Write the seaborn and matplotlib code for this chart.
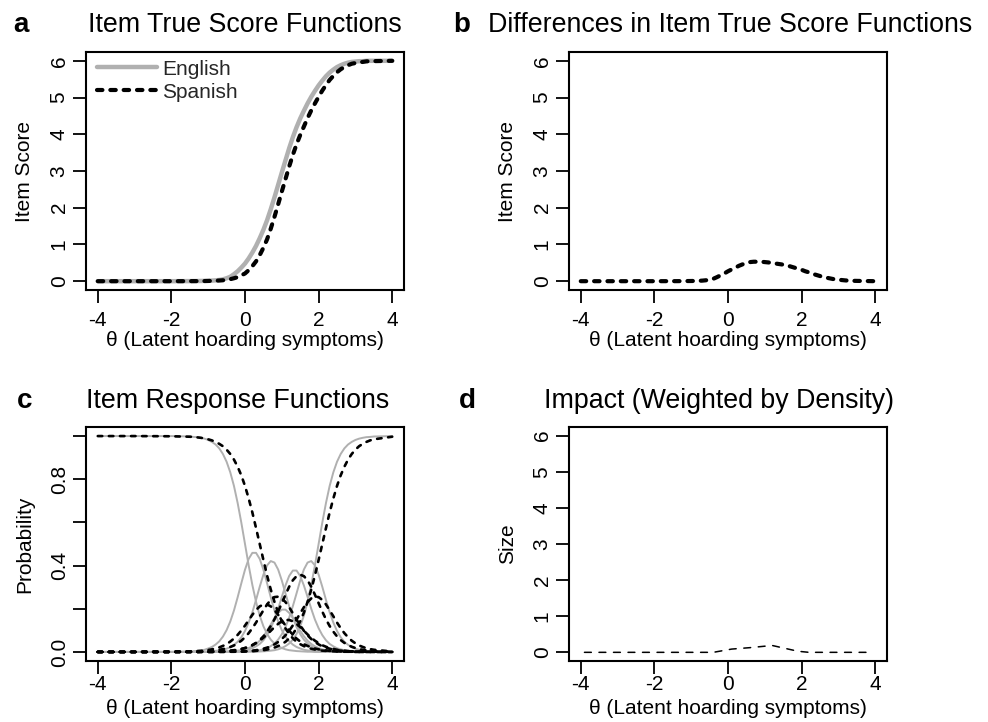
import matplotlib
matplotlib.use("Agg")
import matplotlib.pyplot as plt
import seaborn as sns

# ---------------- data ----------------
theta = [-4.0, -3.0, -2.0,
         -1.5, -1.4, -1.3, -1.2, -1.1, -1.0, -0.9, -0.8, -0.7, -0.6,
         -0.5, -0.4, -0.3, -0.2, -0.1, 0.0, 0.1, 0.2, 0.3, 0.4,
         0.5, 0.6, 0.7, 0.8, 0.9, 1.0, 1.1, 1.2, 1.3, 1.4,
         1.5, 1.6, 1.7, 1.8, 1.9, 2.0, 2.1, 2.2, 2.3, 2.4,
         2.5, 2.6, 2.7, 2.8, 2.9, 3.0, 3.1, 3.2, 3.3, 3.4, 3.5,
         4.0]

# Panel a: item true scores
en_score = [0.0, 0.0, 0.0,
            .002, .003, .004, .006, .008, .011, .016, .023, .033, .050,
            .080, .120, .190, .270, .370, .480, .620, .780, .960, 1.170,
            1.400, 1.660, 1.960, 2.280, 2.620, 2.960, 3.290, 3.620, 3.920, 4.190,
            4.430, 4.640, 4.840, 5.020, 5.180, 5.330, 5.460, 5.580, 5.680, 5.760,
            5.830, 5.880, 5.920, 5.950, 5.970, 5.980, 5.990, 5.990, 6.0, 6.0, 6.0,
            6.0]
es_score = [0.0, 0.0, 0.0,
            .001, .002, .002, .003, .004, .006, .009, .013, .018, .025,
            .035, .055, .080, .110, .160, .210, .300, .410, .540, .710,
            .910, 1.140, 1.430, 1.750, 2.090, 2.440, 2.780, 3.120, 3.440, 3.725,
            3.980, 4.210, 4.440, 4.650, 4.840, 5.020, 5.190, 5.340, 5.480, 5.590,
            5.690, 5.770, 5.830, 5.880, 5.920, 5.940, 5.960, 5.970, 5.985, 5.990, 5.992,
            6.0]

# Panel b: difference in item true scores
diff_vals = [0.0, 0.0, 0.0,
             .001, .001, .002, .003, .004, .005, .007, .010, .015, .025,
             .045, .065, .110, .160, .210, .270, .320, .370, .420, .460,
             .490, .520, .530, .530, .530, .520, .510, .500, .480, .465,
             .450, .430, .400, .370, .340, .310, .270, .240, .200, .170,
             .140, .110, .090, .070, .050, .040, .030, .020, .015, .010, .008,
             0.0]

# Panel c: item response functions (categories 0..6)
en_p0 = [1.0, 1.0, 1.0,
         .998, .996, .995, .992, .988, .982, .973, .961, .943, .917,
         .881, .832, .769, .690, .599, .500, .401, .310, .232, .168,
         .119, .083, .057, .039, .027, .018, .012, .008, .006, .004,
         .003, .002, .001, .001, 0, 0, 0, 0, 0, 0,
         0, 0, 0, 0, 0, 0, 0, 0, 0, 0, 0,
         0.0]
en_p1 = [0, 0, 0,
         .002, .003, .005, .007, .010, .016, .023, .034, .049, .071,
         .101, .141, .192, .253, .318, .381, .431, .459, .459, .431,
         .381, .318, .253, .192, .141, .101, .071, .049, .034, .023,
         .016, .010, .007, .005, .003, .002, .002, .001, .001, .001,
         0, 0, 0, 0, 0, 0, 0, 0, 0, 0, 0,
         0]
en_p2 = [0, 0, 0,
         0, .001, .001, .001, .001, .002, .003, .005, .007, .010,
         .015, .022, .033, .047, .068, .097, .136, .184, .241, .302,
         .358, .401, .421, .414, .382, .331, .271, .212, .159, .115,
         .082, .057, .039, .027, .018, .012, .008, .006, .004, .003,
         .002, .001, .001, 0, 0, 0, 0, 0, 0, 0, 0,
         0]
en_p3 = [0, 0, 0,
         0, 0, 0, 0, 0, 0, 0, .001, .001, .001,
         .002, .003, .004, .006, .008, .012, .018, .026, .037, .052,
         .073, .098, .127, .157, .181, .196, .196, .181, .157, .127,
         .098, .073, .052, .037, .026, .018, .012, .008, .006, .004,
         .003, .002, .001, .001, 0, 0, 0, 0, 0, 0, 0,
         0]
en_p4 = [0, 0, 0,
         0, 0, 0, 0, 0, 0, 0, 0, 0, .001,
         .001, .002, .002, .004, .005, .008, .012, .017, .026, .037,
         .054, .078, .110, .150, .200, .255, .308, .352, .377, .377,
         .352, .308, .255, .200, .150, .110, .078, .054, .037, .026,
         .017, .012, .008, .005, .004, .002, .002, .001, .001, 0, 0,
         0]
en_p5 = [0, 0, 0,
         0, 0, 0, 0, 0, 0, 0, 0, 0, 0,
         0, 0, 0, .001, .001, .002, .003, .004, .006, .008,
         .012, .018, .027, .039, .057, .082, .115, .159, .212, .271,
         .331, .382, .414, .421, .401, .358, .302, .241, .184, .136,
         .097, .068, .047, .033, .022, .015, .010, .007, .005, .003, .003,
         0]
en_p6 = [0, 0, 0,
         0, 0, 0, 0, 0, 0, 0, 0, 0, 0,
         0, 0, 0, 0, 0, 0, .001, .001, .001, .002,
         .003, .004, .006, .008, .012, .018, .027, .039, .057, .083,
         .119, .168, .232, .310, .401, .500, .599, .690, .769, .832,
         .881, .917, .943, .961, .973, .982, .988, .992, .995, .996, .998,
         1.0]

es_p0 = [1.0, 1.0, .999,
         .997, .996, .994, .992, .989, .985, .980, .973, .964, .953,
         .937, .917, .891, .858, .818, .769, .711, .646, .574, .500,
         .426, .354, .289, .232, .182, .142, .109, .083, .063, .047,
         .036, .027, .020, .015, .011, .008, .006, .005, .003, .003,
         .002, .001, .001, .001, .001, 0, 0, 0, 0, 0, 0,
         0]
es_p1 = [0, 0, .001,
         .002, .003, .004, .005, .007, .009, .012, .016, .021, .028,
         .036, .048, .062, .079, .099, .122, .147, .172, .194, .211,
         .220, .220, .211, .194, .172, .147, .122, .099, .079, .062,
         .048, .036, .028, .021, .016, .012, .009, .007, .005, .004,
         .003, .002, .002, .001, .001, .001, 0, 0, 0, 0, 0,
         0]
es_p2 = [0, 0, 0,
         .001, .001, .002, .002, .003, .004, .005, .007, .010, .013,
         .017, .023, .030, .040, .052, .068, .087, .110, .136, .165,
         .193, .220, .241, .254, .256, .248, .231, .207, .179, .150,
         .123, .098, .077, .060, .046, .035, .026, .020, .015, .011,
         .008, .006, .005, .003, .003, .002, .001, .001, .001, .001, .001,
         0]
es_p3 = [0, 0, 0,
         0, 0, 0, .001, .001, .001, .001, .002, .002, .003,
         .004, .006, .008, .010, .014, .018, .024, .031, .041, .052,
         .066, .081, .098, .115, .130, .142, .148, .148, .142, .130,
         .115, .098, .081, .066, .052, .041, .031, .024, .018, .014,
         .010, .008, .006, .004, .003, .002, .002, .001, .001, .001, .001,
         0]
es_p4 = [0, 0, 0,
         0, 0, 0, .001, .001, .001, .001, .002, .002, .003,
         .004, .005, .007, .010, .013, .018, .024, .032, .042, .055,
         .072, .094, .120, .151, .187, .226, .265, .302, .332, .351,
         .358, .351, .332, .302, .265, .226, .187, .151, .120, .094,
         .072, .055, .042, .032, .024, .018, .013, .010, .007, .005, .004,
         .001]
es_p5 = [0, 0, 0,
         0, 0, 0, 0, 0, 0, 0, 0, .001, .001,
         .001, .001, .001, .002, .003, .003, .005, .006, .008, .011,
         .015, .020, .026, .035, .046, .060, .077, .098, .123, .150,
         .179, .207, .231, .248, .256, .254, .241, .220, .193, .165,
         .136, .110, .087, .068, .052, .040, .030, .023, .017, .013, .010,
         .002]
es_p6 = [0, 0, 0,
         0, 0, 0, 0, 0, 0, 0, 0, 0, 0,
         0, .001, .001, .001, .001, .002, .003, .003, .005, .006,
         .008, .011, .015, .020, .027, .036, .047, .063, .083, .109,
         .142, .182, .232, .289, .354, .426, .500, .574, .646, .711,
         .769, .818, .858, .891, .917, .937, .953, .964, .973, .980, .985,
         .997]

# Panel d: impact weighted by density
impact_theta = [-3.9, -0.4, 0.1, 0.6, 1.2, 1.9, 2.2, 3.8]
impact_vals = [0.0, 0.0, 0.09, 0.13, 0.19, 0.03, 0.0, 0.0]

x_ticks = [-4, -2, 0, 2, 4]
x_ticklabels = ["-4", "-2", "0", "2", "4"]
score_ticks = [0, 1, 2, 3, 4, 5, 6]
score_ticklabels = ["0", "1", "2", "3", "4", "5", "6"]
prob_ticks = [0.0, 0.2, 0.4, 0.6, 0.8, 1.0]
prob_ticklabels = ["0.0", "", "0.4", "", "0.8", ""]

titles = ["Item True Score Functions", "Differences in Item True Score Functions",
          "Item Response Functions", "Impact (Weighted by Density)"]
letters = ["a", "b", "c", "d"]
xlab = "\u03b8 (Latent hoarding symptoms)"

# ---------------- style ----------------
sns.set_theme(style="ticks")
plt.rcParams["font.family"] = ["Liberation Sans", "DejaVu Sans"]

GREY = "#B0B0B0"
W, H = 988, 722
FS = 15

fig = plt.figure(figsize=(W / 100, H / 100), dpi=100)
fig.patch.set_facecolor("white")


def box(x0, y0, x1, y1):
    return [x0 / W, 1 - y1 / H, (x1 - x0) / W, (y1 - y0) / H]


ax_a = fig.add_axes(box(86, 52, 404, 290))
ax_b = fig.add_axes(box(569, 52, 887, 290))
ax_c = fig.add_axes(box(86, 427, 404, 661))
ax_d = fig.add_axes(box(569, 427, 887, 661))


def style(ax, ylim, yticks, yticklabels, ylabel, xpad, xlab_y, xlab_va):
    ax.set_facecolor("white")
    ax.set_xlim(-4.32, 4.32)
    ax.set_ylim(*ylim)
    ax.set_xticks(x_ticks)
    ax.set_xticklabels(x_ticklabels)
    ax.set_yticks(yticks)
    ax.set_yticklabels(yticklabels, rotation=90, va="center")
    ax.tick_params(axis="both", direction="out", length=9.5, width=1.3,
                   labelsize=FS, colors="black")
    ax.tick_params(axis="x", pad=xpad)
    ax.tick_params(axis="y", pad=3)
    for s in ax.spines.values():
        s.set_visible(True)
        s.set_linewidth(1.5)
        s.set_color("black")
    ax.set_xlabel(xlab, fontsize=FS, color="black")
    ax.xaxis.label.set_va(xlab_va)
    ax.xaxis.set_label_coords(0.5, xlab_y)
    ax.set_ylabel(ylabel, fontsize=FS, color="black")
    ax.yaxis.label.set_va("center")
    ax.yaxis.set_label_coords(-0.192, 0.5)
    ax.grid(False)


# Panel a
sns.lineplot(x=theta, y=en_score, ax=ax_a, color=GREY, linewidth=3.2,
             estimator=None, sort=False, label="English",
             solid_capstyle="round")
sns.lineplot(x=theta, y=es_score, ax=ax_a, color="black", linewidth=3.0,
             estimator=None, sort=False, label="Spanish",
             linestyle=(0, (1.3, 1.9)), dash_capstyle="round")
style(ax_a, (-0.24, 6.24), score_ticks, score_ticklabels, "Item Score",
      5.5, -0.213, "center")
ax_a.legend(loc="upper left", bbox_to_anchor=(0.034, 0.968), frameon=False,
            fontsize=FS, handlelength=2.9, handletextpad=0.25,
            borderpad=0, borderaxespad=0, labelspacing=0.2)

# Panel b
sns.lineplot(x=theta, y=diff_vals, ax=ax_b, color="black", linewidth=3.0,
             estimator=None, sort=False, legend=False,
             linestyle=(0, (1.3, 1.9)), dash_capstyle="round")
style(ax_b, (-0.24, 6.24), score_ticks, score_ticklabels, "Item Score",
      5.5, -0.213, "center")

# Panel c
for arr in [en_p0, en_p1, en_p2, en_p3, en_p4, en_p5, en_p6]:
    sns.lineplot(x=theta, y=arr, ax=ax_c, color=GREY, linewidth=1.4,
                 estimator=None, sort=False, legend=False)
for arr in [es_p0, es_p1, es_p2, es_p3, es_p4, es_p5, es_p6]:
    sns.lineplot(x=theta, y=arr, ax=ax_c, color="black", linewidth=1.9,
                 estimator=None, sort=False, legend=False,
                 linestyle=(0, (1.7, 2.5)), dash_capstyle="round")
style(ax_c, (-0.042, 1.042), prob_ticks, prob_ticklabels, "Probability",
      0.3, -0.161, "top")

# Panel d
sns.lineplot(x=impact_theta, y=impact_vals, ax=ax_d, color="black", linewidth=1.1,
             estimator=None, sort=False, legend=False,
             linestyle=(0, (4.5, 5.0)), dash_capstyle="round")
style(ax_d, (-0.24, 6.24), score_ticks, score_ticklabels, "Size",
      0.3, -0.161, "top")

# Titles and panel letters
title_pos = [(244.5, 31.7), (730.5, 31.7), (238, 408), (719, 408)]
letter_pos = [(20.7, 31.7), (462, 31.7), (25, 408), (467, 408)]
for t, (x, y) in zip(titles, title_pos):
    fig.text(x / W, 1 - y / H, t, ha="center", va="baseline", fontsize=19.3,
             color="black")
for l, (x, y) in zip(letters, letter_pos):
    fig.text(x / W, 1 - y / H, l, ha="center", va="baseline", fontsize=20,
             fontweight="bold", color="black",
             family=["Liberation Sans Narrow", "Liberation Sans", "DejaVu Sans"])

fig.savefig("out.png", dpi=100, facecolor="white")
